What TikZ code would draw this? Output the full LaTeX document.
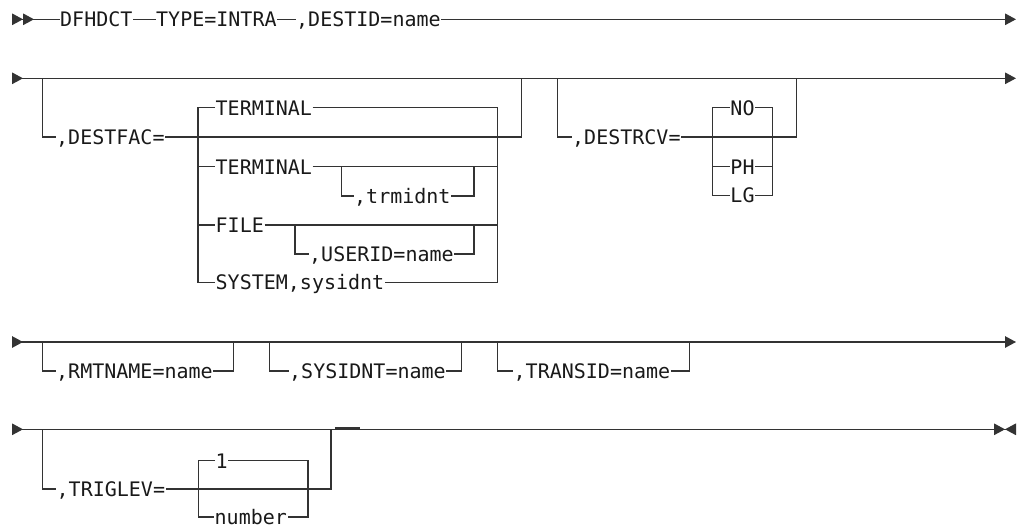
\documentclass[tikz,border=0pt]{standalone}
\usepackage{fontspec}
\newfontfamily\railfont{DejaVu Sans Mono}
\usetikzlibrary{arrows.meta}

\begin{document}
\begin{tikzpicture}[x=1pt,y=-1pt,
  rail/.style={font=\railfont\fontsize{20}{24}\selectfont,text=black!90,inner xsep=0.5pt,inner ysep=0pt,text height=14.6pt,text depth=0pt,anchor=west},
  railline/.style={draw=black!80,line width=1.3pt},
  dblstart/.style={arrows={Triangle[length=11pt,width=11.5pt,reversed]Triangle[length=11pt,width=11.5pt,reversed]-}},
  onestop/.style={arrows={-Triangle[length=11pt,width=11.5pt]}},
  railrow/.style={arrows={Triangle[length=11pt,width=11.5pt,reversed]-Triangle[length=11pt,width=11.5pt]}},
  lastrow/.style={arrows={Triangle[length=11pt,width=11.5pt,reversed]-Triangle[length=11pt,width=11.5pt]Triangle[length=11pt,width=11.5pt,reversed]}}]
\path[use as bounding box] (0,0) rectangle (1021,525);
% first line
\coordinate (s1) at (12,19.3);
\coordinate (e1) at (1016,19.3);
\node[rail] (dfhdct) at (59.5,19.3) {DFHDCT};
\node[rail] (type) at (155.5,19.3) {TYPE=INTRA};
\node[rail] (destid) at (295.5,19.3) {,DESTID=name};
\draw[railline,dblstart] (s1) -- (dfhdct);
\draw[railline] (dfhdct) -- (type) -- (destid);
\draw[railline,onestop] (destid) -- (e1);
% second line
\coordinate (s2) at (12,78.3);
\coordinate (e2) at (1016,78.3);
\draw[railline,railrow] (s2) -- (e2);
\coordinate (fac1) at (42.7,78.3);
\coordinate (fac2) at (521.7,78.3);
\coordinate (facgl) at (198,137);
\coordinate (facgr) at (497.7,137);
\node[rail] (destfac) at (55.5,137) {,DESTFAC=};
\node[rail] (term1) at (215,107.7) {TERMINAL};
\node[rail] (term2) at (215,166.7) {TERMINAL};
\node[rail] (trmidnt) at (353.5,196) {,trmidnt};
\node[rail] (file) at (215,225) {FILE};
\node[rail] (userid) at (308.5,254) {,USERID=name};
\node[rail] (system) at (215,282.5) {SYSTEM,sysidnt};
\draw[railline] (fac1) |- (destfac) -| (fac2);
\draw[railline] (term1) -| (facgl) |- (system);
\draw[railline] (term1) -| (facgr) |- (system);
\draw[railline] (facgl |- term2) -- (term2) -- (facgr |- term2);
\draw[railline] (facgl |- file) -- (file) -- (facgr |- file);
\coordinate (trm1) at (341.7,166.7);
\coordinate (trm2) at (474,166.7);
\draw[railline] (trm1) |- (trmidnt) -| (trm2);
\coordinate (usr1) at (295,225);
\coordinate (usr2) at (474,225);
\draw[railline] (usr1) |- (userid) -| (usr2);
\coordinate (rcv1) at (557.3,78.3);
\coordinate (rcv2) at (796.7,78.3);
\coordinate (rcvgl) at (712.7,137);
\coordinate (rcvgr) at (772.3,137);
\node[rail] (destrcv) at (571.5,137) {,DESTRCV=};
\node[rail,anchor=center] (no) at (742.5,107.7) {NO};
\node[rail,anchor=center] (ph) at (742.5,166.7) {PH};
\node[rail,anchor=center] (lg) at (742.5,195.5) {LG};
\draw[railline] (rcv1) |- (destrcv) -| (rcv2);
\draw[railline] (no) -| (rcvgl) |- (lg);
\draw[railline] (no) -| (rcvgr) |- (lg);
\draw[railline] (rcvgl |- ph) -- (ph) -- (rcvgr |- ph);
% third line
\coordinate (s3) at (12,342);
\coordinate (e3) at (1016,342);
\draw[railline,railrow] (s3) -- (e3);
\node[rail] (rmtname) at (55.5,371) {,RMTNAME=name};
\node[rail] (sysidnt) at (288.5,371) {,SYSIDNT=name};
\node[rail] (transid) at (513,371) {,TRANSID=name};
\coordinate (rmt1) at (42.7,342);
\coordinate (rmt2) at (233.3,342);
\coordinate (sid1) at (269.3,342);
\coordinate (sid2) at (461.7,342);
\coordinate (tid1) at (497.3,342);
\coordinate (tid2) at (689.3,342);
\draw[railline] (rmt1) |- (rmtname) -| (rmt2);
\draw[railline] (sid1) |- (sysidnt) -| (sid2);
\draw[railline] (tid1) |- (transid) -| (tid2);
% fourth line
\coordinate (s4) at (12,429.3);
\coordinate (e4) at (1016,429.3);
\draw[railline,lastrow] (s4) -- (e4);
\coordinate (trg1) at (42.7,429.3);
\coordinate (trg2) at (331,429.3);
\coordinate (trggl) at (198.3,489);
\coordinate (trggr) at (308,489);
\node[rail] (triglev) at (56,489) {,TRIGLEV=};
\node[rail] (one) at (215,460.7) {1};
\node[rail] (number) at (214,517) {number};
\draw[railline] (trg1) |- (triglev) -| (trg2);
\draw[railline] (one) -| (trggl) |- (number);
\draw[railline] (one) -| (trggr) |- (number);
\draw[railline,line width=2.6pt] ([xshift=4pt,yshift=0.7pt]trg2) -- ([xshift=29pt,yshift=0.7pt]trg2);
\end{tikzpicture}
\end{document}
